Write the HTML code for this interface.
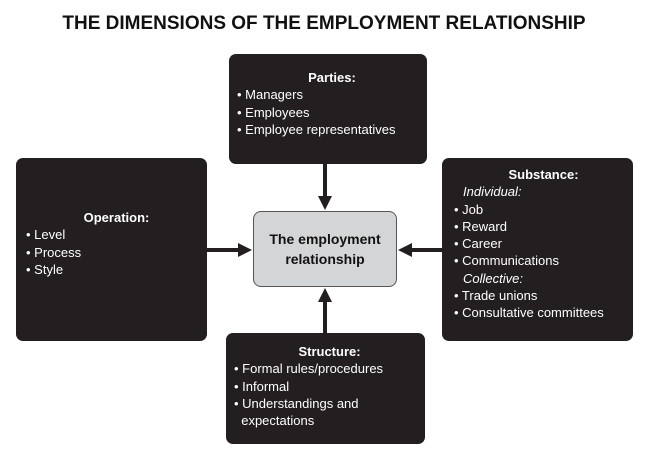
<!DOCTYPE html>
<html><head><style>
body{margin:0;width:648px;height:460px;background:#fff;position:relative;font-family:"Liberation Sans",sans-serif;overflow:hidden}
.t{position:absolute;left:0;width:648px;top:13px;text-align:center;font-weight:bold;font-size:19px;color:#111}
.b{position:absolute;background:#231f20;color:#fff;border-radius:7px;font-size:13px;line-height:17.3px;box-sizing:border-box}
.b h{display:block;font-weight:bold;text-align:center}
.c{position:absolute;left:253px;top:211px;width:144px;height:76px;background:#d4d5d6;border:1.5px solid #555;border-radius:8px;box-sizing:border-box;text-align:center;font-weight:bold;font-size:14px;line-height:20px;padding-top:17px;color:#111}
i{padding-left:9px}
</style></head><body>
<div class="t">THE DIMENSIONS OF THE EMPLOYMENT RELATIONSHIP</div>
<div class="b" style="left:229px;top:54px;width:198px;height:110px;padding:15px 0 0 8px"><h>Parties:</h>• Managers<br>• Employees<br>• Employee representatives</div>
<div class="b" style="left:16px;top:158px;width:191px;height:183px;padding:51px 0 0 10px"><h>Operation:</h>• Level<br>• Process<br>• Style</div>
<div class="b" style="left:442px;top:158px;width:191px;height:183px;padding:8px 0 0 12px"><h>Substance:</h><i>Individual:</i><br>• Job<br>• Reward<br>• Career<br>• Communications<br><i>Collective:</i><br>• Trade unions<br>• Consultative committees</div>
<div class="b" style="left:226px;top:333px;width:199px;height:111px;padding:10px 0 0 8px"><h>Structure:</h>• Formal rules/procedures<br>• Informal<br>• Understandings and<br>&nbsp;&nbsp;expectations</div>
<div class="c">The employment<br>relationship</div>
<svg width="648" height="460" style="position:absolute;left:0;top:0">
<g fill="#231f20" stroke="#231f20">
<line x1="325" y1="163" x2="325" y2="198" stroke-width="4"/><polygon points="318,196 332,196 325,210" stroke="none"/>
<line x1="325" y1="333" x2="325" y2="300" stroke-width="4"/><polygon points="318,302 332,302 325,288" stroke="none"/>
<line x1="207" y1="250" x2="240" y2="250" stroke-width="4"/><polygon points="238,243 238,257 252,250" stroke="none"/>
<line x1="442" y1="250" x2="410" y2="250" stroke-width="4"/><polygon points="412,243 412,257 398,250" stroke="none"/>
</g></svg>
</body></html>
